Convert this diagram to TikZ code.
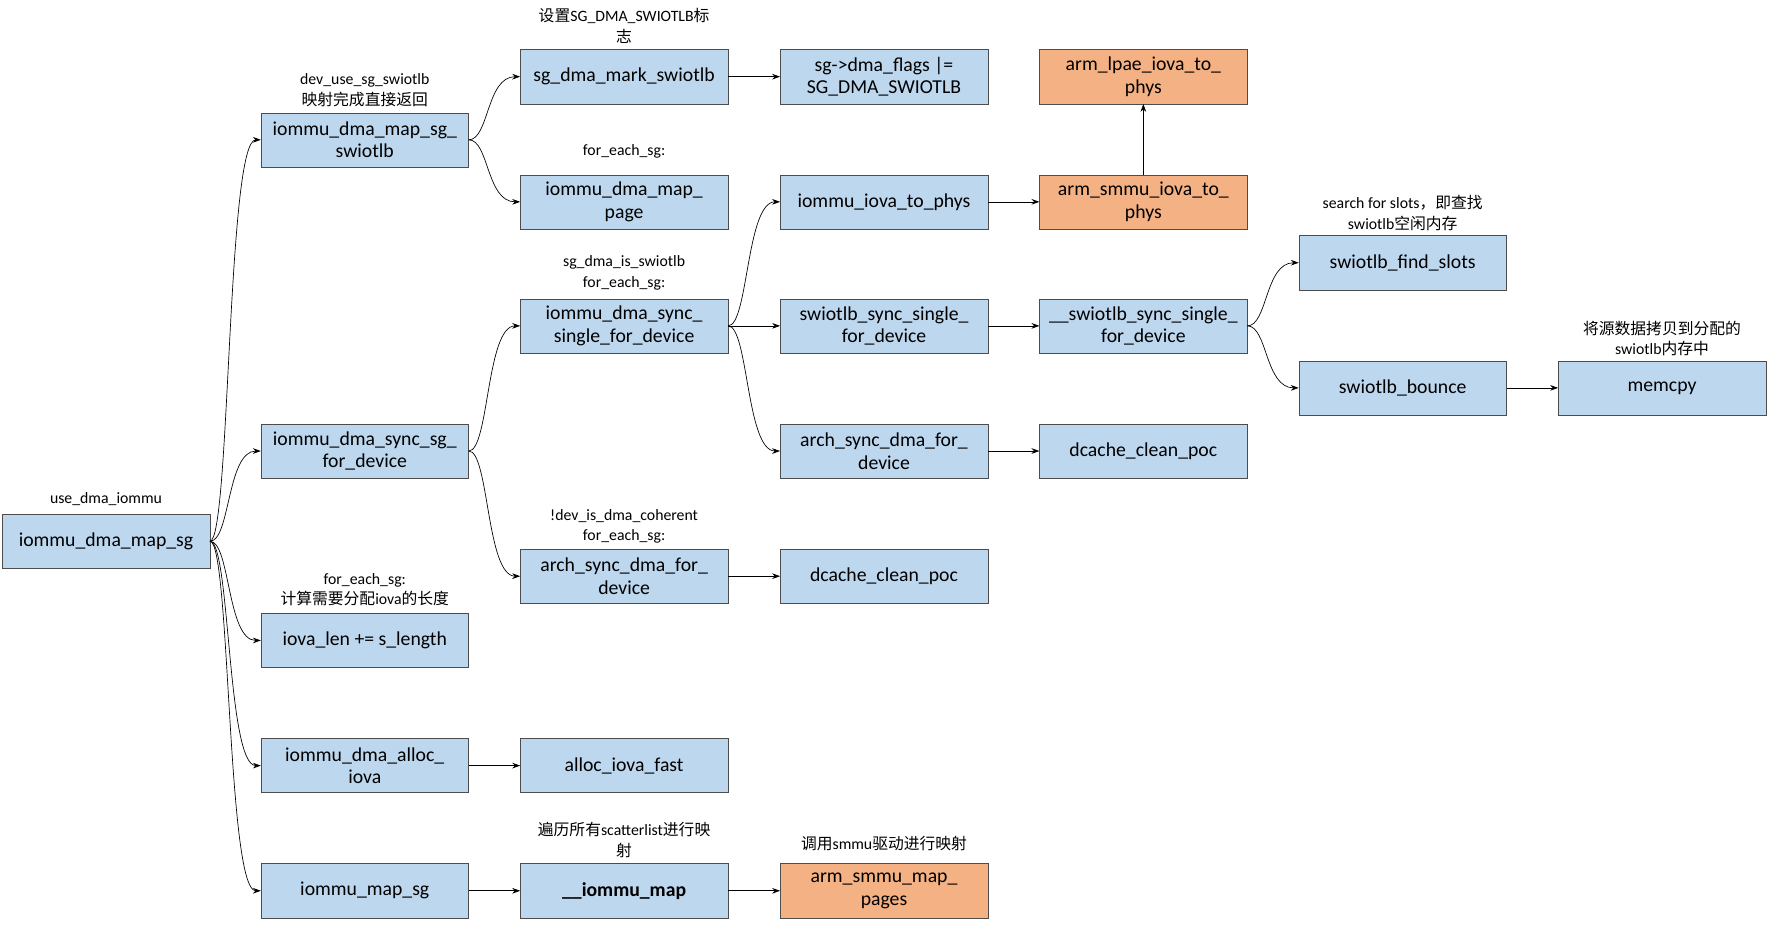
\documentclass[tikz,border=0pt]{standalone}
\usepackage{fontspec}
\setmainfont{Carlito}
\newfontfamily\cjk{Noto Sans CJK SC}
\usetikzlibrary{arrows.meta}
\begin{document}
\begin{tikzpicture}[x=1pt,y=-1pt,
 box/.style={draw=black!70,fill={rgb,255:red,189;green,215;blue,238},minimum width=184pt,minimum height=48pt,inner sep=1pt,align=center,font=\fontsize{17.5}{20}\selectfont},
 obox/.style={box,fill={rgb,255:red,244;green,177;blue,131}},
 lab/.style={align=center,font=\fontsize{14}{18}\selectfont},
 ar/.style={-{Stealth[length=7pt,width=5pt]},line width=0.6pt},
 cv/.style={ar,out=0,in=180,out distance=18pt,in distance=30pt}]
\useasboundingbox (0,0) rectangle (1568,820);
% column 1
\node[box] (mapsg) at (94,480) {iommu\_dma\_map\_sg};
% column 2
\node[box] (swl) at (323.5,124) {iommu\_dma\_map\_sg\_\\swiotlb};
\node[box] (syncsg) at (323.5,400) {iommu\_dma\_sync\_sg\_\\for\_device};
\node[box] (iovalen) at (323.5,568) {iova\_len += s\_length};
\node[box] (alloc) at (323.5,679) {iommu\_dma\_alloc\_\\iova};
\node[box] (mapsgI) at (323.5,790) {iommu\_map\_sg};
% column 3
\node[box] (mark) at (553.5,68) {sg\_dma\_mark\_swiotlb};
\node[box] (mappage) at (553.5,179) {iommu\_dma\_map\_\\page};
\node[box] (syncsingle) at (553.5,289) {iommu\_dma\_sync\_\\single\_for\_device};
\node[box] (arch3) at (553.5,511) {arch\_sync\_dma\_for\_\\device};
\node[box] (fast) at (553.5,679) {alloc\_iova\_fast};
\node[box] (imap) at (553.5,790) {\textbf{\_\_iommu\_map}};
% column 4
\node[box] (flags) at (784,68) {sg->dma\_flags |=\\SG\_DMA\_SWIOTLB};
\node[box] (iovaphys) at (784,179) {iommu\_iova\_to\_phys};
\node[box] (swsync) at (784,289) {swiotlb\_sync\_single\_\\for\_device};
\node[box] (arch4) at (784,400) {arch\_sync\_dma\_for\_\\device};
\node[box] (dc4) at (784,511) {dcache\_clean\_poc};
\node[obox] (smmumap) at (784,790) {arm\_smmu\_map\_\\pages};
% column 5
\node[obox] (lpae) at (1014,68) {arm\_lpae\_iova\_to\_\\phys};
\node[obox] (smmuiova) at (1014,179) {arm\_smmu\_iova\_to\_\\phys};
\node[box] (uswsync) at (1014,289) {\_\_swiotlb\_sync\_single\_\\for\_device};
\node[box] (dc5) at (1014,400) {dcache\_clean\_poc};
% column 6,7
\node[box] (find) at (1244,233) {swiotlb\_find\_slots};
\node[box] (bounce) at (1244,344) {swiotlb\_bounce};
\node[box] (memcpy) at (1474,344) {memcpy};
% labels
\node[lab] (l1) at (94,443) {use\_dma\_iommu};
\node[lab] (l2) at (323.5,80) {dev\_use\_sg\_swiotlb\\{\cjk 映射完成直接返回}};
\node[lab] (l3) at (553.5,23) {{\cjk 设置}SG\_DMA\_SWIOTLB{\cjk 标}\\{\cjk 志}};
\node[lab] (l4) at (553.5,134) {for\_each\_sg:};
\node[lab] (l5) at (553.5,242) {sg\_dma\_is\_swiotlb\\for\_each\_sg:};
\node[lab] (l6) at (553.5,467) {!dev\_is\_dma\_coherent\\for\_each\_sg:};
\node[lab] (l7) at (323.5,523) {for\_each\_sg:\\{\cjk 计算需要分配}iova{\cjk 的长度}};
\node[lab] (l8) at (553.5,745) {{\cjk 遍历所有}scatterlist{\cjk 进行映}\\{\cjk 射}};
\node[lab] (l9) at (784,748) {{\cjk 调用}smmu{\cjk 驱动进行映射}};
\node[lab] (l10) at (1244,189) {search for slots{\cjk ，即查找}\\swiotlb{\cjk 空闲内存}};
\node[lab] (l11) at (1474,300) {{\cjk 将源数据拷贝到分配的}\\swiotlb{\cjk 内存中}};
% curved connectors
\foreach \t in {swl,syncsg,iovalen,alloc,mapsgI} \draw[cv] (mapsg.east) to (\t.west);
\foreach \t in {mark,mappage} \draw[cv] (swl.east) to (\t.west);
\foreach \t in {syncsingle,arch3} \draw[cv] (syncsg.east) to (\t.west);
\foreach \t in {iovaphys,arch4} \draw[cv] (syncsingle.east) to (\t.west);
\foreach \t in {find,bounce} \draw[cv] (uswsync.east) to (\t.west);
% straight connectors
\draw[ar] (mark) -- (flags);
\draw[ar] (syncsingle) -- (swsync);
\draw[ar] (swsync) -- (uswsync);
\draw[ar] (iovaphys) -- (smmuiova);
\draw[ar] (smmuiova) -- (lpae);
\draw[ar] (arch4) -- (dc5);
\draw[ar] (arch3) -- (dc4);
\draw[ar] (bounce) -- (memcpy);
\draw[ar] (alloc) -- (fast);
\draw[ar] (mapsgI) -- (imap);
\draw[ar] (imap) -- (smmumap);
\end{tikzpicture}
\end{document}
